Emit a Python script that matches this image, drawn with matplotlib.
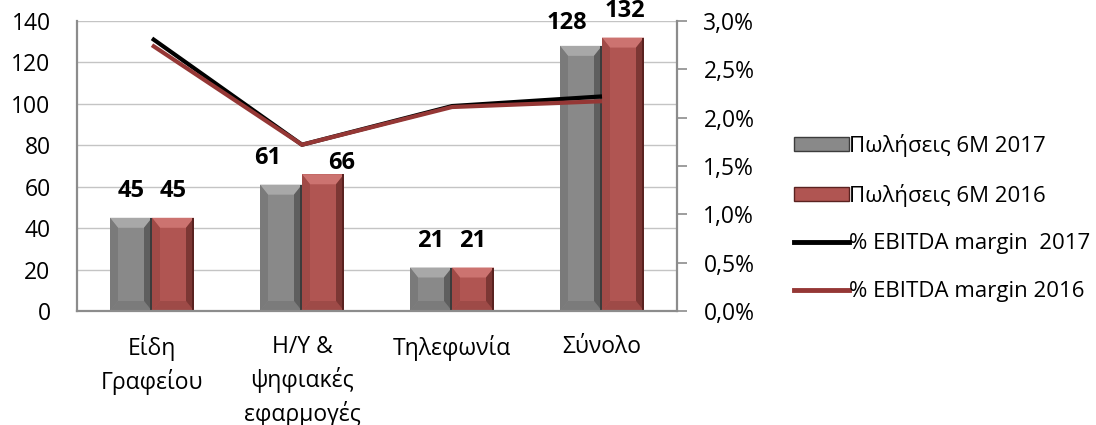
import numpy as np
import matplotlib
matplotlib.use('Agg')
import matplotlib.pyplot as plt
from matplotlib.patches import Polygon, Rectangle, Patch
from matplotlib.lines import Line2D
from matplotlib.ticker import FuncFormatter

plt.rcParams['font.family'] = ['Open Sans', 'DejaVu Sans']

categories = ['Είδη\nΓραφείου', 'Η/Υ &\nψηφιακές\nεφαρμογές', 'Τηλεφωνία', 'Σύνολο']
sales_2017 = [45, 61, 21, 128]
sales_2016 = [45, 66, 21, 132]
ebitda_2017 = [2.82, 1.72, 2.12, 2.22]
ebitda_2016 = [2.75, 1.72, 2.11, 2.17]
labels_2017 = ['45', '61', '21', '128']
labels_2016 = ['45', '66', '21', '132']

# label nudges in pixels (dx, dy) to mimic the original placement
nudge_2017 = [(0, 0), (-13, 0), (0, 0), (-14, -4)]
nudge_2016 = [(0, 0), (19, -16), (0, 0), (2, 0)]

W, H, DPI = 1096, 425, 100
fig = plt.figure(figsize=(W / DPI, H / DPI), dpi=DPI)
ax_l, ax_r, ax_b, ax_t = 77, 677, 311, 21
ax = fig.add_axes([ax_l / W, 1 - ax_b / H, (ax_r - ax_l) / W, (ax_b - ax_t) / H])
ax2 = ax.twinx()

ax.set_xlim(-0.5, 3.5)
ax.set_ylim(0, 140)
ax2.set_ylim(0, 3.0)

dxp = 4.0 / (ax_r - ax_l)
dyp = 140.0 / (ax_b - ax_t)

x = np.arange(len(categories))
bw = 0.28
FS = 16.5


def bevel_bar(xl, h, face, light, side, bottom, right, edge):
    w = bw
    b = 8 * dxp
    by = min(10 * dyp, h / 2)
    ax.add_patch(Rectangle((xl, 0), w, h, facecolor=face, edgecolor='none', zorder=2))
    # top bevel
    ax.add_patch(Polygon([(xl, h), (xl + w, h), (xl + w - b, h - by), (xl + b, h - by)],
                         closed=True, facecolor=light, edgecolor='none', zorder=3))
    # bottom bevel
    ax.add_patch(Polygon([(xl, 0), (xl + w, 0), (xl + w - b, by), (xl + b, by)],
                         closed=True, facecolor=bottom, edgecolor='none', zorder=3))
    # left bevel
    ax.add_patch(Polygon([(xl, 0), (xl + b, by), (xl + b, h - by), (xl, h)],
                         closed=True, facecolor=side, edgecolor='none', zorder=3))
    # right bevel
    ax.add_patch(Polygon([(xl + w, 0), (xl + w - b, by), (xl + w - b, h - by), (xl + w, h)],
                         closed=True, facecolor=right, edgecolor='none', zorder=3))
    ax.add_patch(Rectangle((xl + w - 2 * dxp, 0), 2 * dxp, h, facecolor=edge,
                           edgecolor='none', zorder=4))


gray = dict(face='#898989', light='#a8a8a8', side='#7a7a7a', bottom='#7b7b7b',
            right='#5e5e5e', edge='#3c3c3c')
red = dict(face='#b05552', light='#cc7370', side='#a04a47', bottom='#9e4a47',
           right='#7c3734', edge='#5a2220')

for i in range(len(categories)):
    bevel_bar(x[i] - bw, sales_2017[i], **gray)
    bevel_bar(x[i], sales_2016[i], **red)

for i in range(len(categories)):
    for xv, v, lab, nd in [(x[i] - bw / 2, sales_2017[i], labels_2017[i], nudge_2017[i]),
                           (x[i] + bw / 2, sales_2016[i], labels_2016[i], nudge_2016[i])]:
        ax.annotate(lab, (xv, v), xytext=(nd[0] * 0.72, (27 + nd[1]) * 0.72),
                    textcoords='offset points', ha='center', va='center',
                    fontsize=17, fontweight='bold', color='black', zorder=6)

ax2.plot(x, ebitda_2017, color='black', lw=3.0, solid_capstyle='butt', zorder=5)
ax2.plot(x, ebitda_2016, color='#953735', lw=3.0, solid_capstyle='butt', zorder=6)

# grid
for yv in range(20, 141, 20):
    ax.axhline(yv, color='#c4c4c4', lw=1.0, zorder=1)

ax.set_yticks(range(0, 141, 20))
ax.set_xticks(x)
ax.set_xticklabels(categories, fontsize=FS, linespacing=1.4)
ax.tick_params(axis='x', length=0, pad=17)
ax.tick_params(axis='y', length=0, labelsize=FS, pad=19)

ax2.set_yticks(np.arange(0, 3.01, 0.5))
ax2.yaxis.set_major_formatter(FuncFormatter(lambda v, p: ('%.1f%%' % v).replace('.', ',')))
ax2.tick_params(axis='y', length=7, width=1.2, color='#8c8c8c', labelsize=FS, pad=12)

for a in (ax, ax2):
    for s in a.spines.values():
        s.set_visible(False)
ax.spines['left'].set_visible(True)
ax.spines['bottom'].set_visible(True)
ax2.spines['right'].set_visible(True)
for s in (ax.spines['left'], ax.spines['bottom'], ax2.spines['right']):
    s.set_color('#8c8c8c')
    s.set_linewidth(1.6)
ax.spines['bottom'].set_zorder(7)

ax.set_zorder(ax2.get_zorder() - 1)
ax.patch.set_visible(True)
ax2.patch.set_visible(False)

handles = [
    Patch(facecolor=gray['face'], edgecolor=gray['edge'], lw=1.0),
    Patch(facecolor=red['face'], edgecolor=red['edge'], lw=1.0),
    Line2D([], [], color='black', lw=3.5),
    Line2D([], [], color='#953735', lw=3.5),
]
leg_labels = ['Πωλήσεις 6M 2017', 'Πωλήσεις 6M 2016', '% EBITDA margin  2017', '% EBITDA margin 2016']
fig.legend(handles, leg_labels, loc='center left', bbox_to_anchor=(783 / W, 1 - 218 / H),
           frameon=False, fontsize=16, handlelength=2.45, handleheight=0.55,
           handletextpad=0.0, labelspacing=1.2, borderpad=0)

fig.savefig('out.png', dpi=DPI)
